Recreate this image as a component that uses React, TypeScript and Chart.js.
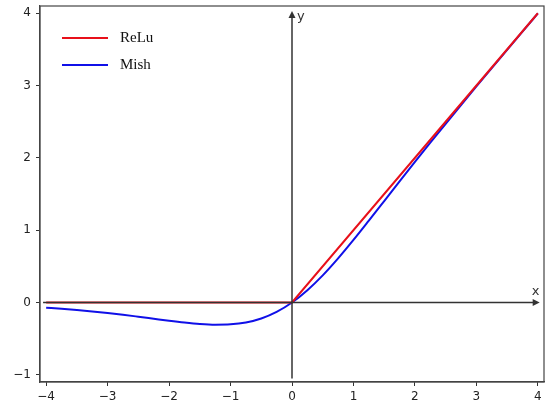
import React, { useEffect, useRef } from "react";
import { Chart, registerables } from "chart.js";

Chart.register(...registerables);

const xTicks = [-4, -3, -2, -1, 0, 1, 2, 3, 4];
const yTicks = [-1, 0, 1, 2, 3, 4];

const reluX = [-4, 0, 4];
const reluY = [0, 0, 4];

const mishX = [-4, -3.75, -3.5, -3.25, -3, -2.75, -2.5, -2.25, -2, -1.75, -1.5, -1.25, -1, -0.75, -0.5, -0.25, 0, 0.25, 0.5, 0.75, 1, 1.25, 1.5, 1.75, 2, 2.25, 2.5, 2.75, 3, 3.25, 3.5, 3.75, 4];
const mishY = [-0.073, -0.087, -0.104, -0.124, -0.146, -0.17, -0.197, -0.225, -0.253, -0.278, -0.298, -0.308, -0.303, -0.277, -0.221, -0.13, 0, 0.17, 0.375, 0.61, 0.865, 1.132, 1.403, 1.675, 1.944, 2.209, 2.471, 2.73, 2.987, 3.241, 3.494, 3.746, 3.997];

const seriesNames = ["ReLu", "Mish"];
const seriesColors = ["#e8101a", "#1010e8"];

const fmt = (v: number) => (v < 0 ? "\u2212" + Math.abs(v) : String(v));

export default function App() {
  const ref = useRef<HTMLCanvasElement | null>(null);
  useEffect(() => {
    document.body.style.margin = "0";
    const canvas = ref.current!;
    const overlay = {
      id: "overlay",
      afterDatasetsDraw(chart: any) {
        const { ctx, chartArea: a, scales } = chart;
        const xs = scales.x, ys = scales.y;
        ctx.save();
        ctx.strokeStyle = "#333";
        ctx.fillStyle = "#333";
        ctx.lineWidth = 1.5;
        const y0 = ys.getPixelForValue(0);
        const x0 = xs.getPixelForValue(0);
        const hx1 = xs.getPixelForValue(-4.05), hx2 = xs.getPixelForValue(4.03);
        ctx.beginPath(); ctx.moveTo(hx1, y0); ctx.lineTo(hx2 - 5, y0); ctx.stroke();
        ctx.beginPath(); ctx.moveTo(hx2, y0); ctx.lineTo(hx2 - 7, y0 - 3.5); ctx.lineTo(hx2 - 7, y0 + 3.5); ctx.closePath(); ctx.fill();
        const vy1 = ys.getPixelForValue(-1.05), vy2 = ys.getPixelForValue(4.03);
        ctx.beginPath(); ctx.moveTo(x0, vy1); ctx.lineTo(x0, vy2 + 5); ctx.stroke();
        ctx.beginPath(); ctx.moveTo(x0, vy2); ctx.lineTo(x0 - 3.5, vy2 + 7); ctx.lineTo(x0 + 3.5, vy2 + 7); ctx.closePath(); ctx.fill();
        ctx.font = "13px 'DejaVu Sans'";
        ctx.textBaseline = "middle";
        ctx.textAlign = "left";
        ctx.fillText("y", x0 + 5, vy2 + 6);
        ctx.textAlign = "center";
        ctx.fillText("x", hx2 - 4, y0 - 11);
        ctx.lineWidth = 1.2;
        ctx.strokeStyle = "#444";
        ctx.strokeRect(a.left, a.top, a.right - a.left, a.bottom - a.top);
        ctx.font = "15px 'Liberation Serif'";
        ctx.textAlign = "left";
        seriesNames.forEach((n, i) => {
          const yy = a.top + 32 + i * 27;
          ctx.strokeStyle = seriesColors[i];
          ctx.lineWidth = 2;
          ctx.beginPath(); ctx.moveTo(62, yy); ctx.lineTo(108, yy); ctx.stroke();
          ctx.fillStyle = "#111";
          ctx.fillText(n, 120, yy);
        });
        ctx.restore();
      },
    };
    const chart = new Chart(canvas, {
      type: "line",
      data: {
        datasets: [
          {
            label: seriesNames[0],
            data: reluX.map((x, i) => ({ x, y: reluY[i] })),
            borderColor: seriesColors[0],
            borderWidth: 2,
            pointRadius: 0,
            tension: 0,
          },
          {
            label: seriesNames[1],
            data: mishX.map((x, i) => ({ x, y: mishY[i] })),
            borderColor: seriesColors[1],
            borderWidth: 2,
            pointRadius: 0,
            cubicInterpolationMode: "monotone",
          },
        ],
      },
      options: {
        animation: false,
        responsive: false,
        layout: { padding: { top: 6, right: 6, left: 0, bottom: 0 } },
        plugins: { legend: { display: false }, tooltip: { enabled: false } },
        scales: {
          x: {
            type: "linear",
            min: -4.1,
            max: 4.1,
            afterBuildTicks: (s: any) => { s.ticks = xTicks.map((v) => ({ value: v })); },
            afterFit: (s: any) => { s.height = 30; s.paddingLeft = 0; s.paddingRight = 0; },
            grid: { drawOnChartArea: false, drawTicks: true, tickLength: 4, color: "#333", lineWidth: 1 },
            border: { display: true, color: "#444", width: 1.2 },
            ticks: { color: "#222", font: { family: "DejaVu Sans", size: 12 }, padding: 4, maxRotation: 0, callback: (v: any) => fmt(Number(v)) },
          },
          y: {
            type: "linear",
            min: -1.1,
            max: 4.1,
            afterBuildTicks: (s: any) => { s.ticks = yTicks.map((v) => ({ value: v })); },
            afterFit: (s: any) => { s.width = 40; s.paddingTop = 0; s.paddingBottom = 0; },
            grid: { drawOnChartArea: false, drawTicks: true, tickLength: 4, color: "#333", lineWidth: 1 },
            border: { display: true, color: "#444", width: 1.2 },
            ticks: { color: "#222", font: { family: "DejaVu Sans", size: 12 }, padding: 5, callback: (v: any) => fmt(Number(v)) },
          },
        },
      },
      plugins: [overlay],
    } as any);
    return () => chart.destroy();
  }, []);
  return (
    <div style={{ width: 550, height: 412, background: "#fff" }}>
      <canvas ref={ref} width={550} height={412} style={{ display: "block" }} />
    </div>
  );
}
